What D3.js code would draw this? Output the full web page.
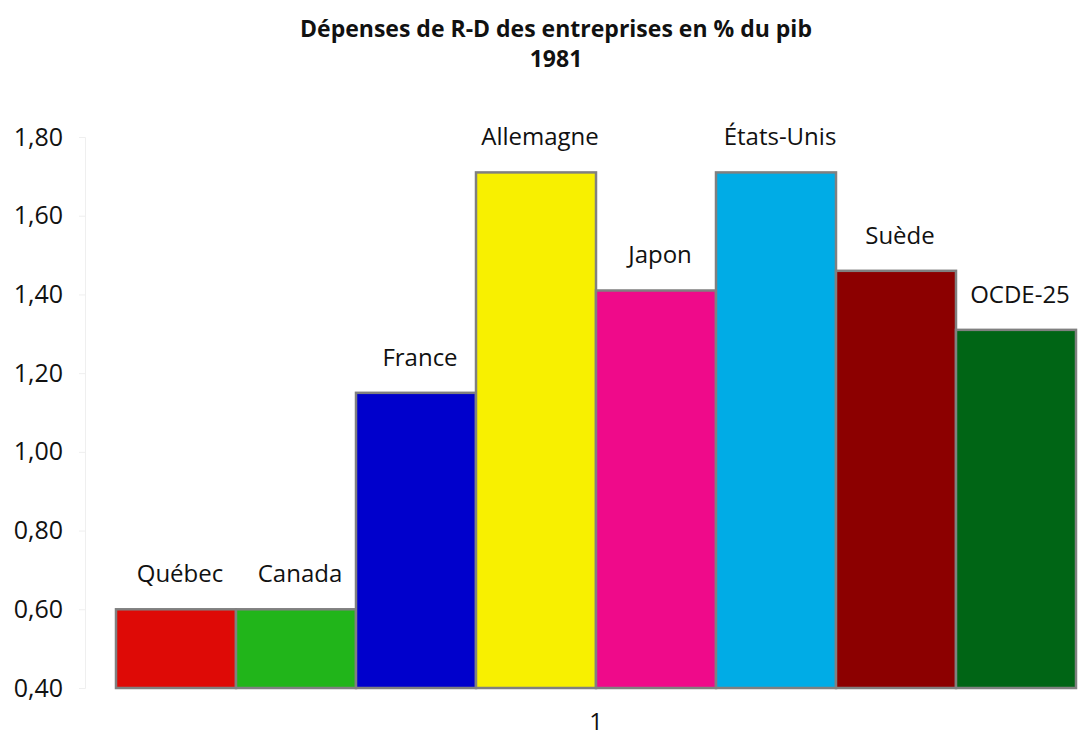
<!DOCTYPE html>
<html>
<head>
<meta charset="utf-8">
<script src="https://cdn.jsdelivr.net/npm/d3@7"></script>
<style>
  body { margin: 0; background: #fff; }
  text { font-family: "Open Sans", "Noto Sans", sans-serif; fill: #111; }
</style>
</head>
<body>
<svg width="1089" height="733"></svg>
<script>
  const titleLines = ['Dépenses de R-D des entreprises en % du pib', '1981'];
  const categories = ['Québec', 'Canada', 'France', 'Allemagne', 'Japon', 'États-Unis', 'Suède', 'OCDE-25'];
  const values = [0.60, 0.60, 1.15, 1.71, 1.41, 1.71, 1.46, 1.31];
  const colors = ['#de0a06', '#21b51a', '#0000cc', '#f8f000', '#ef0a8a', '#00ace6', '#8c0000', '#006515'];
  const yTicks = [0.40, 0.60, 0.80, 1.00, 1.20, 1.40, 1.60, 1.80];
  const xAxisLabel = '1';

  const svg = d3.select('svg');
  const margin = { top: 137, left: 116, right: 13, bottom: 45 };
  const width = +svg.attr('width');
  const height = +svg.attr('height');
  const innerWidth = width - margin.left - margin.right;
  const innerHeight = height - margin.top - margin.bottom;

  const xScale = d3.scaleBand()
    .domain(categories)
    .range([0, innerWidth])
    .padding(0);

  const yScale = d3.scaleLinear()
    .domain([0.4, 1.8])
    .range([innerHeight, 0]);

  const g = svg.append('g')
    .attr('transform', `translate(${margin.left},${margin.top})`);

  // faint value axis, like the original
  const yAxis = d3.axisLeft(yScale)
    .tickValues(yTicks)
    .tickSize(6)
    .tickPadding(16)
    .tickFormat(d => d3.format('.2f')(d).replace('.', ','));

  const yAxisG = g.append('g')
    .attr('transform', 'translate(-31,0)')
    .call(yAxis);
  yAxisG.selectAll('.domain, .tick line').attr('stroke', '#efefef');
  yAxisG.selectAll('text')
    .attr('font-size', 25)
    .attr('font-family', '"Open Sans", sans-serif')
    .attr('fill', '#111');

  const data = categories.map((c, i) => ({ name: c, value: values[i], color: colors[i] }));

  g.selectAll('rect').data(data)
    .enter().append('rect')
      .attr('x', d => xScale(d.name))
      .attr('y', d => yScale(d.value))
      .attr('width', xScale.bandwidth())
      .attr('height', d => innerHeight - yScale(d.value))
      .attr('fill', d => d.color)
      .attr('stroke', '#808080')
      .attr('stroke-width', 2.5);

  g.selectAll('.bar-label').data(data)
    .enter().append('text')
      .attr('class', 'bar-label')
      .attr('x', d => xScale(d.name) + xScale.bandwidth() / 2 + 4)
      .attr('y', d => yScale(d.value) - 27)
      .attr('text-anchor', 'middle')
      .attr('font-size', 24)
      .text(d => d.name);

  g.append('text')
    .attr('x', innerWidth / 2)
    .attr('y', innerHeight + 42)
    .attr('text-anchor', 'middle')
    .attr('font-size', 24)
    .text(xAxisLabel);

  svg.selectAll('.title').data(titleLines)
    .enter().append('text')
      .attr('class', 'title')
      .attr('x', 556)
      .attr('y', (d, i) => 37 + i * 30)
      .attr('text-anchor', 'middle')
      .attr('font-size', 23)
      .attr('font-weight', 'bold')
      .text(d => d);
</script>
</body>
</html>
